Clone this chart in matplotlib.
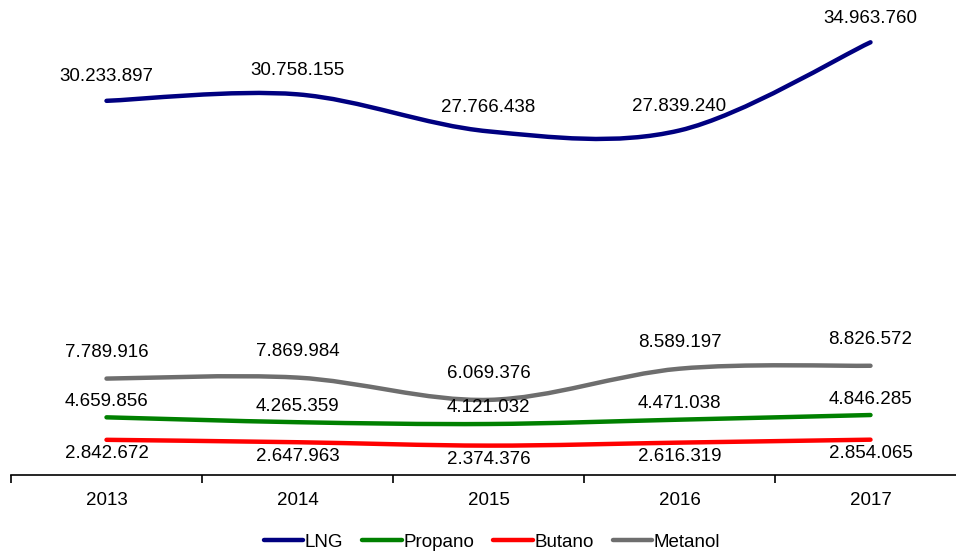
import numpy as np
import matplotlib.pyplot as plt
from matplotlib.path import Path
from matplotlib.patches import PathPatch
from matplotlib.lines import Line2D

plt.rcParams['font.family'] = ['Liberation Sans', 'DejaVu Sans']

years = ['2013', '2014', '2015', '2016', '2017']
lng = [30233897, 30758155, 27766438, 27839240, 34963760]
propano = [4659856, 4265359, 4121032, 4471038, 4846285]
butano = [2842672, 2647963, 2374376, 2616319, 2854065]
metanol = [7789916, 7869984, 6069376, 8589197, 8826572]

series = [
    ('LNG', lng, '#000080', 24),
    ('Propano', propano, '#008000', 16),
    ('Butano', butano, '#ff0000', -14),
    ('Metanol', metanol, '#6e6e6e', 26),
]


def fmt(v):
    return f'{v:,}'.replace(',', '.')


def smooth_path(x, y):
    # excel-like smoothed line: cubic bezier, catmull-rom control points
    pts = np.column_stack([x, y]).astype(float)
    ext = np.vstack([pts[0], pts, pts[-1]])
    verts = [pts[0]]
    codes = [Path.MOVETO]
    for i in range(len(pts) - 1):
        p0, p1, p2, p3 = ext[i], ext[i + 1], ext[i + 2], ext[i + 3]
        verts += [p1 + (p2 - p0) / 6, p2 - (p3 - p1) / 6, p2]
        codes += [Path.CURVE4] * 3
    return Path(verts, codes)


fig = plt.figure(figsize=(9.56, 5.56), dpi=100)
ax = fig.add_axes([11 / 956, 81 / 556, 955 / 956, 474 / 556])

x = np.arange(1, len(years) + 1)
handles = []
for name, vals, col, off in series:
    ax.add_patch(PathPatch(smooth_path(x, vals), fill=False, edgecolor=col,
                           lw=3.2, capstyle='round', joinstyle='round'))
    for xi, v in zip(x, vals):
        ax.annotate(fmt(v), (xi, v), xytext=(0, off), textcoords='offset pixels',
                    ha='center', va='center', fontsize=13.5, color='#000000')
    handles.append(Line2D([], [], color=col, lw=3.2, solid_capstyle='round', label=name))

ax.set_xlim(0.5, 5.5)
ax.set_ylim(0, 38300000)
for s in ['top', 'left', 'right']:
    ax.spines[s].set_visible(False)
ax.spines['bottom'].set_linewidth(1.2)
ax.set_yticks([])
ax.set_xticks(x)
ax.set_xticklabels(years, fontsize=13.5)
ax.set_xticks(np.arange(0.5, 6, 1), minor=True)
ax.tick_params(axis='x', which='major', length=0, pad=12)
ax.tick_params(axis='x', which='minor', length=6, width=1.2, direction='out')

fig.legend(handles=handles, loc='center', bbox_to_anchor=(492 / 956, 1 - 542 / 556),
           ncol=4, frameon=False, fontsize=13.5, handlelength=2.1,
           handletextpad=0.1, columnspacing=1.0)

fig.savefig('out.png', dpi=100)
